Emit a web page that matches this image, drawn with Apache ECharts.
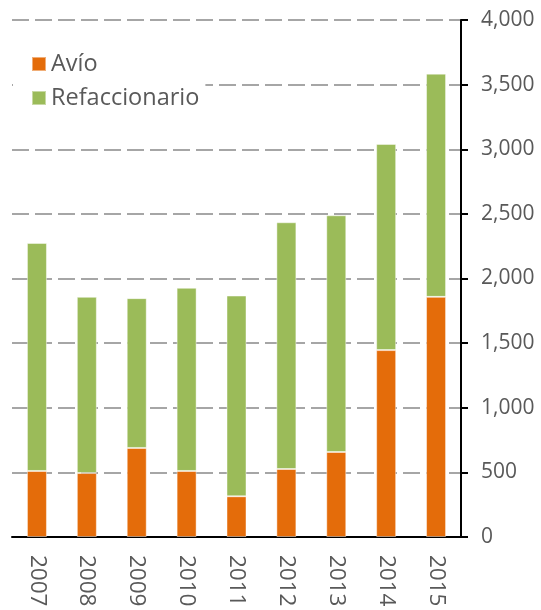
<!DOCTYPE html>
<html lang="es">
<head>
<meta charset="UTF-8">
<title>Avío y Refaccionario</title>
<script src="https://cdn.jsdelivr.net/npm/echarts@6/dist/echarts.min.js"></script>
<style>
    html, body { margin: 0; padding: 0; background: #fff; }
    #chart { width: 541px; height: 610px; }
</style>
</head>
<body>
<div id="chart"></div>
<script type="text/javascript">
    // datos
    var years = ['2007', '2008', '2009', '2010', '2011', '2012', '2013', '2014', '2015'];
    var avio = [511, 495, 689, 511, 315, 526, 658, 1446, 1858];
    var refaccionario = [1764, 1363, 1159, 1417, 1553, 1909, 1831, 1595, 1727];
    var yTicks = [0, 500, 1000, 1500, 2000, 2500, 3000, 3500, 4000];

    var textColor = '#595959';
    var font = '"Open Sans", "DejaVu Sans", sans-serif';

    var myChart = echarts.init(document.getElementById('chart'));

    var option = {
        animation: false,
        backgroundColor: '#fff',
        textStyle: { fontFamily: font },
        grid: { left: 12, right: 80, top: 20, bottom: 73, outerBoundsMode: 'none', containLabel: false },
        legend: {
            orient: 'vertical',
            left: 13,
            top: 44,
            padding: [8, 6, 8, 18],
            backgroundColor: '#fff',
            itemWidth: 14,
            itemHeight: 14,
            itemGap: 10,
            itemTextGap: 7,
            icon: 'rect',
            textStyle: { fontSize: 23.5, color: textColor, fontFamily: font },
            data: ['Avío', 'Refaccionario']
        },
        xAxis: {
            type: 'category',
            data: years,
            axisLine: { lineStyle: { color: '#000', width: 2 } },
            axisTick: { length: 8, lineStyle: { color: '#000', width: 2 } },
            axisLabel: {
                rotate: -90,
                margin: 18,
                fontSize: 22.5,
                color: textColor,
                fontFamily: font
            }
        },
        yAxis: {
            type: 'value',
            position: 'right',
            min: yTicks[0],
            max: yTicks[yTicks.length - 1],
            interval: 500,
            axisLine: { show: true, lineStyle: { color: '#000', width: 2 } },
            axisTick: { show: true, length: 7, lineStyle: { color: '#000', width: 2 } },
            axisLabel: {
                margin: 20,
                fontSize: 21,
                color: textColor,
                fontFamily: font,
                formatter: function (v) { return v.toLocaleString('en-US'); }
            },
            splitLine: {
                show: true,
                lineStyle: { color: '#A6A6A6', width: 2, type: [17, 6] }
            }
        },
        series: [
            {
                name: 'Avío',
                type: 'bar',
                stack: 'total',
                barWidth: 20,
                data: avio,
                itemStyle: { color: '#E46C0A', borderColor: 'rgba(255,255,255,0.45)', borderWidth: 1 }
            },
            {
                name: 'Refaccionario',
                type: 'bar',
                stack: 'total',
                barWidth: 20,
                data: refaccionario,
                itemStyle: { color: '#9BBB59', borderColor: 'rgba(255,255,255,0.45)', borderWidth: 1 }
            }
        ]
    };

    myChart.setOption(option);
</script>
</body>
</html>
